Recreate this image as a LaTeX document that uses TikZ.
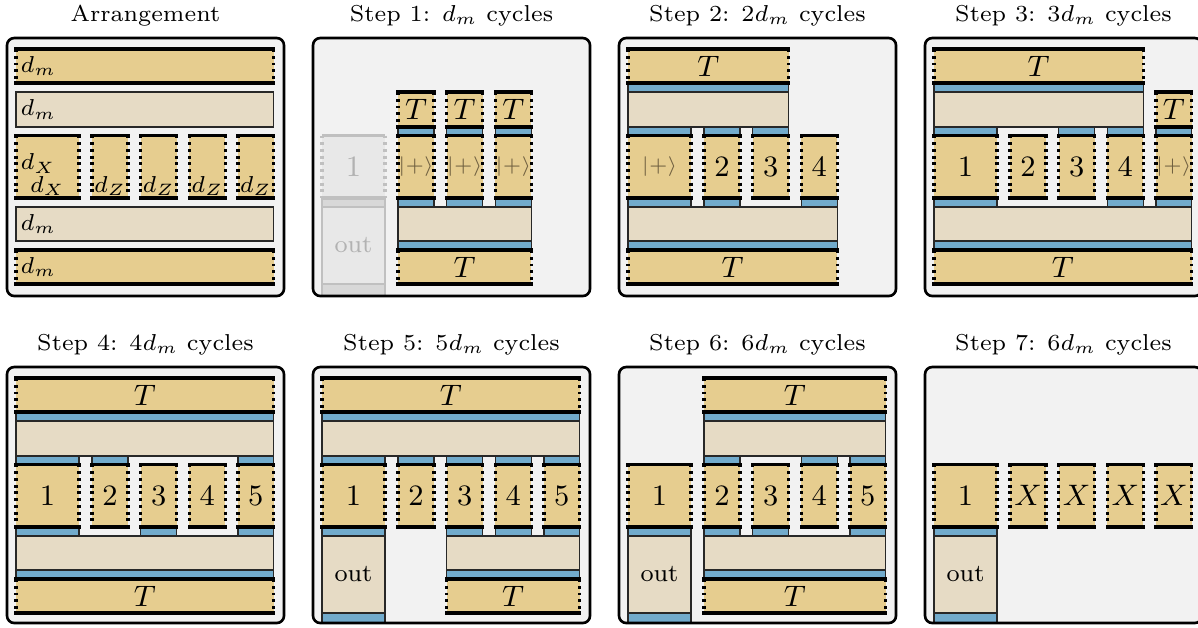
\documentclass[tikz,border=0pt]{standalone}
\definecolor{yc}{RGB}{230,205,143}
\definecolor{tanc}{RGB}{230,219,197}
\definecolor{bluec}{RGB}{114,171,204}
\definecolor{bgc}{RGB}{242,242,242}
\definecolor{edgec}{RGB}{40,40,40}
\definecolor{plusc}{RGB}{112,96,64}
\definecolor{fadeY}{RGB}{232,232,232}
\definecolor{fadeL}{RGB}{192,192,192}
\definecolor{fadeS}{RGB}{216,216,216}
\definecolor{fadeT}{RGB}{178,178,178}
\tikzset{
  yfill/.style={fill=yc},
  dotside/.style={draw=black,line width=0.95pt,dash pattern=on 0.9pt off 1.15pt},
  solidedge/.style={draw=black,line width=1pt,line cap=rect},
  tanbox/.style={fill=tanc,draw=edgec,line width=0.35pt},
  bluebox/.style={fill=bluec,draw=edgec,line width=0.35pt},
  panelbg/.style={fill=bgc,rounded corners=2.2pt},
  panelline/.style={draw=black,line width=0.8pt,rounded corners=2.2pt},
  ttl/.style={anchor=base,inner sep=0pt,font=\fontsize{7}{8.4}\selectfont},
  blab/.style={inner sep=0pt,font=\fontsize{9}{10.8}\selectfont},
  olab/.style={inner sep=0pt,font=\fontsize{7.5}{9}\selectfont},
  plab/.style={inner sep=0pt,text=plusc,font=\fontsize{6}{7}\selectfont},
  wlab/.style={anchor=west,inner sep=1.2pt,font=\fontsize{7}{8}\selectfont},
  slab/.style={anchor=south,inner sep=0.6pt,font=\fontsize{7}{8}\selectfont},
}
\newcommand\PatchY[4]{%
  \fill[yfill] (#1,#3) rectangle (#2,#4);
  \draw[dotside] (#1,#3) -- (#1,#4) (#2,#3) -- (#2,#4);
  \draw[solidedge] (#1,#3) -- (#2,#3) (#1,#4) -- (#2,#4);}
\newcommand\PatchT[4]{\filldraw[tanbox] (#1,#3) rectangle (#2,#4);}
\newcommand\PatchB[4]{\filldraw[bluebox] (#1,#3) rectangle (#2,#4);}
% columns
\def\cAl{0}\def\cAr{63}
\def\cBl{76}\def\cBr{112}
\def\cCl{124.7}\def\cCr{160.7}
\def\cDl{173.3}\def\cDr{209.3}
\def\cEl{222}\def\cEr{257.5}
\def\mA{31.5}\def\mB{94}\def\mC{142.7}\def\mD{191.3}\def\mE{239.75}
% rows
\def\rTt{49}\def\rTb{83}
\def\rMt{92}\def\rMb{127}
\def\rDt{135.5}\def\rDb{198}
\def\rNt{207}\def\rNb{241}
\def\rBt{250}\def\rBb{284}
\def\yT{66}\def\yM{109.5}\def\yD{166.75}\def\yN{224}\def\yB{267}\def\yO{245.5}
\begin{document}
\begin{tikzpicture}[x=0.304pt,y=-0.304pt]
\useasboundingbox (0,0) rectangle (1198,627);
% panel backgrounds
\foreach \px in {7,313,619,925}{
  \fill[panelbg] (\px,38) rectangle ++(277,258);
  \fill[panelbg] (\px,367) rectangle ++(277,256);
}
% titles
\node[ttl] (title0) at (145.5,21) {Arrangement};
\node[ttl] (title1) at (451.5,21) {Step 1: $d_m$ cycles};
\node[ttl] (title2) at (757.5,21) {Step 2: $2d_m$ cycles};
\node[ttl] (title3) at (1063.5,21) {Step 3: $3d_m$ cycles};
\node[ttl] (title4) at (145.5,350) {Step 4: $4d_m$ cycles};
\node[ttl] (title5) at (451.5,350) {Step 5: $5d_m$ cycles};
\node[ttl] (title6) at (757.5,350) {Step 6: $6d_m$ cycles};
\node[ttl] (title7) at (1063.5,350) {Step 7: $6d_m$ cycles};

% ---------- Panel 0: Arrangement ----------
\begin{scope}[shift={(16,0)}]
  \PatchY{\cAl}{\cEr}{\rTt}{\rTb}
  \node[wlab] (a1) at (\cAl,\yT) {$d_m$};
  \PatchT{\cAl}{\cEr}{\rMt}{\rMb}
  \node[wlab] (a2) at (\cAl,\yM) {$d_m$};
  \PatchY{\cAl}{\cAr}{\rDt}{\rDb}
  \PatchY{\cBl}{\cBr}{\rDt}{\rDb}
  \PatchY{\cCl}{\cCr}{\rDt}{\rDb}
  \PatchY{\cDl}{\cDr}{\rDt}{\rDb}
  \PatchY{\cEl}{\cEr}{\rDt}{\rDb}
  \node[wlab] (a3) at (\cAl,163.5) {$d_X$};
  \node[slab] (a4) at (\mA,\rDb) {$d_X$};
  \node[slab] (a5) at (\mB,\rDb) {$d_Z$};
  \node[slab] (a6) at (\mC,\rDb) {$d_Z$};
  \node[slab] (a7) at (\mD,\rDb) {$d_Z$};
  \node[slab] (a8) at (\mE,\rDb) {$d_Z$};
  \PatchT{\cAl}{\cEr}{\rNt}{\rNb}
  \node[wlab] (a9) at (\cAl,\yN) {$d_m$};
  \PatchY{\cAl}{\cEr}{\rBt}{\rBb}
  \node[wlab] (a10) at (\cAl,\yB) {$d_m$};
\end{scope}

% ---------- Panel 1: Step 1 ----------
\begin{scope}[shift={(322,0)}]
  \begin{scope}[yfill/.style={fill=fadeY},
      dotside/.style={draw=fadeL,line width=0.95pt,dash pattern=on 0.9pt off 1.15pt},
      solidedge/.style={draw=fadeL,line width=1pt},
      bluebox/.style={fill=fadeS,draw=fadeL,line width=0.35pt},
      tanbox/.style={fill=fadeY,draw=fadeL,line width=0.35pt}]
    \PatchB{\cAl}{\cAr}{\rDb}{\rNt}
    \PatchT{\cAl}{\cAr}{\rNt}{\rBb}
    \PatchB{\cAl}{\cAr}{\rBb}{296}
    \PatchY{\cAl}{\cAr}{\rDt}{\rDb}
    \node[blab,text=fadeT] (b1) at (\mA,\yD) {1};
    \node[olab,text=fadeT] (b2) at (\mA,\yO) {out};
  \end{scope}
  \PatchB{\cBl}{\cBr}{\rMb}{\rDt}
  \PatchB{\cCl}{\cCr}{\rMb}{\rDt}
  \PatchB{\cDl}{\cDr}{\rMb}{\rDt}
  \PatchB{\cBl}{\cBr}{\rDb}{\rNt}
  \PatchB{\cCl}{\cCr}{\rDb}{\rNt}
  \PatchB{\cDl}{\cDr}{\rDb}{\rNt}
  \PatchT{\cBl}{\cDr}{\rNt}{\rNb}
  \PatchB{\cBl}{\cDr}{\rNb}{\rBt}
  \PatchY{\cBl}{\cDr}{\rBt}{\rBb}
  \node[blab] (b3) at (142.65,\yB) {$T$};
  \PatchY{\cBl}{\cBr}{\rMt}{\rMb}
  \PatchY{\cCl}{\cCr}{\rMt}{\rMb}
  \PatchY{\cDl}{\cDr}{\rMt}{\rMb}
  \node[blab] (b4) at (\mB,\yM) {$T$};
  \node[blab] (b5) at (\mC,\yM) {$T$};
  \node[blab] (b6) at (\mD,\yM) {$T$};
  \PatchY{\cBl}{\cBr}{\rDt}{\rDb}
  \PatchY{\cCl}{\cCr}{\rDt}{\rDb}
  \PatchY{\cDl}{\cDr}{\rDt}{\rDb}
  \node[plab] (b7) at (\mB,\yD) {$|{+}\rangle$};
  \node[plab] (b8) at (\mC,\yD) {$|{+}\rangle$};
  \node[plab] (b9) at (\mD,\yD) {$|{+}\rangle$};
\end{scope}

% ---------- Panel 2: Step 2 ----------
\begin{scope}[shift={(628,0)}]
  \PatchB{\cAl}{\cCr}{\rTb}{\rMt}
  \PatchT{\cAl}{\cCr}{\rMt}{\rMb}
  \PatchB{\cAl}{\cAr}{\rMb}{\rDt}
  \PatchB{\cBl}{\cBr}{\rMb}{\rDt}
  \PatchB{\cCl}{\cCr}{\rMb}{\rDt}
  \PatchB{\cAl}{\cAr}{\rDb}{\rNt}
  \PatchB{\cBl}{\cBr}{\rDb}{\rNt}
  \PatchB{\cDl}{\cDr}{\rDb}{\rNt}
  \PatchT{\cAl}{\cDr}{\rNt}{\rNb}
  \PatchB{\cAl}{\cDr}{\rNb}{\rBt}
  \PatchY{\cAl}{\cCr}{\rTt}{\rTb}
  \node[blab] (c1) at (80.35,\yT) {$T$};
  \PatchY{\cAl}{\cAr}{\rDt}{\rDb}
  \PatchY{\cBl}{\cBr}{\rDt}{\rDb}
  \PatchY{\cCl}{\cCr}{\rDt}{\rDb}
  \PatchY{\cDl}{\cDr}{\rDt}{\rDb}
  \node[plab] (c2) at (\mA,\yD) {$|{+}\rangle$};
  \node[blab] (c3) at (\mB,\yD) {2};
  \node[blab] (c4) at (\mC,\yD) {3};
  \node[blab] (c5) at (\mD,\yD) {4};
  \PatchY{\cAl}{\cDr}{\rBt}{\rBb}
  \node[blab] (c6) at (104.65,\yB) {$T$};
\end{scope}

% ---------- Panel 3: Step 3 ----------
\begin{scope}[shift={(934,0)}]
  \PatchB{\cAl}{\cDr}{\rTb}{\rMt}
  \PatchT{\cAl}{\cDr}{\rMt}{\rMb}
  \PatchB{\cAl}{\cAr}{\rMb}{\rDt}
  \PatchB{\cCl}{\cCr}{\rMb}{\rDt}
  \PatchB{\cDl}{\cDr}{\rMb}{\rDt}
  \PatchB{\cEl}{\cEr}{\rMb}{\rDt}
  \PatchB{\cAl}{\cAr}{\rDb}{\rNt}
  \PatchB{\cDl}{\cDr}{\rDb}{\rNt}
  \PatchB{\cEl}{\cEr}{\rDb}{\rNt}
  \PatchT{\cAl}{\cEr}{\rNt}{\rNb}
  \PatchB{\cAl}{\cEr}{\rNb}{\rBt}
  \PatchY{\cAl}{\cDr}{\rTt}{\rTb}
  \node[blab] (d1) at (104.65,\yT) {$T$};
  \PatchY{\cEl}{\cEr}{\rMt}{\rMb}
  \node[blab] (d2) at (\mE,\yM) {$T$};
  \PatchY{\cAl}{\cAr}{\rDt}{\rDb}
  \PatchY{\cBl}{\cBr}{\rDt}{\rDb}
  \PatchY{\cCl}{\cCr}{\rDt}{\rDb}
  \PatchY{\cDl}{\cDr}{\rDt}{\rDb}
  \PatchY{\cEl}{\cEr}{\rDt}{\rDb}
  \node[blab] (d3) at (\mA,\yD) {1};
  \node[blab] (d4) at (\mB,\yD) {2};
  \node[blab] (d5) at (\mC,\yD) {3};
  \node[blab] (d6) at (\mD,\yD) {4};
  \node[plab] (d7) at (\mE,\yD) {$|{+}\rangle$};
  \PatchY{\cAl}{\cEr}{\rBt}{\rBb}
  \node[blab] (d8) at (128.75,\yB) {$T$};
\end{scope}

% ---------- Panel 4: Step 4 ----------
\begin{scope}[shift={(16,329)}]
  \PatchB{\cAl}{\cEr}{\rTb}{\rMt}
  \PatchT{\cAl}{\cEr}{\rMt}{\rMb}
  \PatchB{\cAl}{\cAr}{\rMb}{\rDt}
  \PatchB{\cBl}{\cBr}{\rMb}{\rDt}
  \PatchB{\cEl}{\cEr}{\rMb}{\rDt}
  \PatchB{\cAl}{\cAr}{\rDb}{\rNt}
  \PatchB{\cCl}{\cCr}{\rDb}{\rNt}
  \PatchB{\cEl}{\cEr}{\rDb}{\rNt}
  \PatchT{\cAl}{\cEr}{\rNt}{\rNb}
  \PatchB{\cAl}{\cEr}{\rNb}{\rBt}
  \PatchY{\cAl}{\cEr}{\rTt}{\rTb}
  \node[blab] (e1) at (128.75,\yT) {$T$};
  \PatchY{\cAl}{\cAr}{\rDt}{\rDb}
  \PatchY{\cBl}{\cBr}{\rDt}{\rDb}
  \PatchY{\cCl}{\cCr}{\rDt}{\rDb}
  \PatchY{\cDl}{\cDr}{\rDt}{\rDb}
  \PatchY{\cEl}{\cEr}{\rDt}{\rDb}
  \node[blab] (e2) at (\mA,\yD) {1};
  \node[blab] (e3) at (\mB,\yD) {2};
  \node[blab] (e4) at (\mC,\yD) {3};
  \node[blab] (e5) at (\mD,\yD) {4};
  \node[blab] (e6) at (\mE,\yD) {5};
  \PatchY{\cAl}{\cEr}{\rBt}{\rBb}
  \node[blab] (e7) at (128.75,\yB) {$T$};
\end{scope}

% ---------- Panel 5: Step 5 ----------
\begin{scope}[shift={(322,329)}]
  \PatchB{\cAl}{\cEr}{\rTb}{\rMt}
  \PatchT{\cAl}{\cEr}{\rMt}{\rMb}
  \PatchB{\cAl}{\cAr}{\rMb}{\rDt}
  \PatchB{\cBl}{\cBr}{\rMb}{\rDt}
  \PatchB{\cCl}{\cCr}{\rMb}{\rDt}
  \PatchB{\cDl}{\cDr}{\rMb}{\rDt}
  \PatchB{\cEl}{\cEr}{\rMb}{\rDt}
  \PatchB{\cAl}{\cAr}{\rDb}{\rNt}
  \PatchB{\cCl}{\cCr}{\rDb}{\rNt}
  \PatchB{\cDl}{\cDr}{\rDb}{\rNt}
  \PatchB{\cEl}{\cEr}{\rDb}{\rNt}
  \PatchT{\cAl}{\cAr}{\rNt}{\rBb}
  \node[olab] (g1) at (\mA,\yO) {out};
  \PatchB{\cAl}{\cAr}{\rBb}{294}
  \PatchT{\cCl}{\cEr}{\rNt}{\rNb}
  \PatchB{\cCl}{\cEr}{\rNb}{\rBt}
  \PatchY{\cAl}{\cEr}{\rTt}{\rTb}
  \node[blab] (g2) at (128.75,\yT) {$T$};
  \PatchY{\cAl}{\cAr}{\rDt}{\rDb}
  \PatchY{\cBl}{\cBr}{\rDt}{\rDb}
  \PatchY{\cCl}{\cCr}{\rDt}{\rDb}
  \PatchY{\cDl}{\cDr}{\rDt}{\rDb}
  \PatchY{\cEl}{\cEr}{\rDt}{\rDb}
  \node[blab] (g3) at (\mA,\yD) {1};
  \node[blab] (g4) at (\mB,\yD) {2};
  \node[blab] (g5) at (\mC,\yD) {3};
  \node[blab] (g6) at (\mD,\yD) {4};
  \node[blab] (g7) at (\mE,\yD) {5};
  \PatchY{\cCl}{\cEr}{\rBt}{\rBb}
  \node[blab] (g8) at (191.1,\yB) {$T$};
\end{scope}

% ---------- Panel 6: Step 6 ----------
\begin{scope}[shift={(628,329)}]
  \PatchB{\cBl}{\cEr}{\rTb}{\rMt}
  \PatchT{\cBl}{\cEr}{\rMt}{\rMb}
  \PatchB{\cBl}{\cBr}{\rMb}{\rDt}
  \PatchB{\cDl}{\cDr}{\rMb}{\rDt}
  \PatchB{\cEl}{\cEr}{\rMb}{\rDt}
  \PatchB{\cAl}{\cAr}{\rDb}{\rNt}
  \PatchB{\cBl}{\cBr}{\rDb}{\rNt}
  \PatchB{\cCl}{\cCr}{\rDb}{\rNt}
  \PatchB{\cEl}{\cEr}{\rDb}{\rNt}
  \PatchT{\cAl}{\cAr}{\rNt}{\rBb}
  \node[olab] (h1) at (\mA,\yO) {out};
  \PatchB{\cAl}{\cAr}{\rBb}{294}
  \PatchT{\cBl}{\cEr}{\rNt}{\rNb}
  \PatchB{\cBl}{\cEr}{\rNb}{\rBt}
  \PatchY{\cBl}{\cEr}{\rTt}{\rTb}
  \node[blab] (h2) at (166.75,\yT) {$T$};
  \PatchY{\cAl}{\cAr}{\rDt}{\rDb}
  \PatchY{\cBl}{\cBr}{\rDt}{\rDb}
  \PatchY{\cCl}{\cCr}{\rDt}{\rDb}
  \PatchY{\cDl}{\cDr}{\rDt}{\rDb}
  \PatchY{\cEl}{\cEr}{\rDt}{\rDb}
  \node[blab] (h3) at (\mA,\yD) {1};
  \node[blab] (h4) at (\mB,\yD) {2};
  \node[blab] (h5) at (\mC,\yD) {3};
  \node[blab] (h6) at (\mD,\yD) {4};
  \node[blab] (h7) at (\mE,\yD) {5};
  \PatchY{\cBl}{\cEr}{\rBt}{\rBb}
  \node[blab] (h8) at (166.75,\yB) {$T$};
\end{scope}

% ---------- Panel 7: Step 7 ----------
\begin{scope}[shift={(934,329)}]
  \PatchB{\cAl}{\cAr}{\rDb}{\rNt}
  \PatchT{\cAl}{\cAr}{\rNt}{\rBb}
  \node[olab] (k1) at (\mA,\yO) {out};
  \PatchB{\cAl}{\cAr}{\rBb}{294}
  \PatchY{\cAl}{\cAr}{\rDt}{\rDb}
  \PatchY{\cBl}{\cBr}{\rDt}{\rDb}
  \PatchY{\cCl}{\cCr}{\rDt}{\rDb}
  \PatchY{\cDl}{\cDr}{\rDt}{\rDb}
  \PatchY{\cEl}{\cEr}{\rDt}{\rDb}
  \node[blab] (k2) at (\mA,\yD) {1};
  \node[blab] (k3) at (\mB,\yD) {$X$};
  \node[blab] (k4) at (\mC,\yD) {$X$};
  \node[blab] (k5) at (\mD,\yD) {$X$};
  \node[blab] (k6) at (\mE,\yD) {$X$};
\end{scope}

% panel outlines
\foreach \px in {7,313,619,925}{
  \draw[panelline] (\px,38) rectangle ++(277,258);
  \draw[panelline] (\px,367) rectangle ++(277,256);
}
\end{tikzpicture}
\end{document}
